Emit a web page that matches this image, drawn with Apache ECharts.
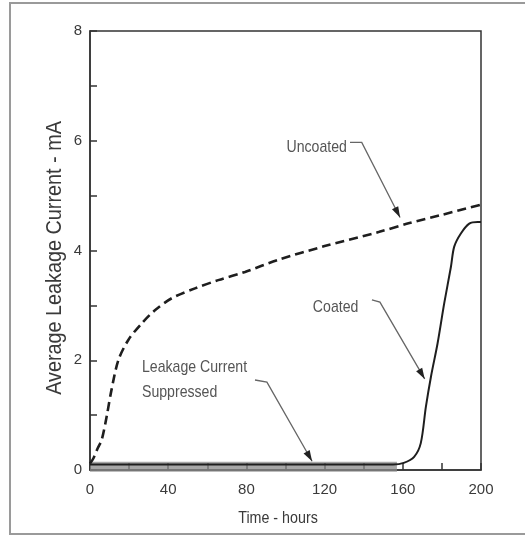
<!DOCTYPE html>
<html>
<head>
<meta charset="utf-8">
<title>Average Leakage Current</title>
<script src="https://cdn.jsdelivr.net/npm/echarts@6/dist/echarts.min.js"></script>
<style>
  html, body { margin: 0; padding: 0; background: #fff; }
  #chart { width: 525px; height: 536px; }
</style>
</head>
<body>
<div id="chart"></div>
<script>
// hours / mA
const uncoatedTime = [0, 1.7, 4, 6, 8.5, 11, 14.5, 19.6, 26.4, 33.2, 41.8, 53.7, 65.6, 79.3, 96.3, 120, 148, 163.4, 180, 199.5];
const uncoatedValue = [0.12, 0.21, 0.4, 0.55, 0.97, 1.46, 2.0, 2.37, 2.67, 2.91, 3.13, 3.31, 3.46, 3.61, 3.83, 4.08, 4.34, 4.5, 4.65, 4.83];

const coatedTime = [0, 40, 80, 120, 155, 160.5, 165.8, 169.2, 171.8, 174.4, 177.8, 181.2, 184.6, 186.3, 189.7, 194, 198.3, 200];
const coatedValue = [0.1, 0.1, 0.1, 0.1, 0.1, 0.13, 0.24, 0.49, 1.15, 1.7, 2.31, 3.04, 3.7, 4.07, 4.31, 4.49, 4.52, 4.52];

// grey band of suppressed leakage current along the bottom
const bandTime = [0, 157];
const bandValue = [0.06, 0.06];

const xTicks = [0, 40, 80, 120, 160, 200];
const yTicks = [0, 2, 4, 6, 8];

// annotations: label anchor and pointer path, in data units
const notes = [
  { text: 'Uncoated', at: [100.5, 5.88], path: [[133, 5.97], [139, 5.97], [158.6, 4.6]] },
  { text: 'Coated', at: [114, 2.97], path: [[144.2, 3.1], [148.3, 3.06], [171.2, 1.66]] },
  { text: 'Leakage Current\nSuppressed', at: [26.6, 1.64], path: [[84.4, 1.64], [90.5, 1.6], [113.6, 0.16]] }
];

const pairs = (xs, ys) => xs.map((x, i) => [x, ys[i]]);
const font = '"Liberation Sans", Arial, sans-serif';
const ink = '#3a3a3a';

const chart = echarts.init(document.getElementById('chart'));

const option = {
  animation: false,
  backgroundColor: '#fff',
  grid: {
    left: 90, top: 31, width: 391, height: 439,
    show: true, borderColor: '#333', borderWidth: 1.5, backgroundColor: 'transparent'
  },
  xAxis: {
    type: 'value', min: 0, max: 200, interval: 20,
    axisLine: { show: true, lineStyle: { color: '#333', width: 1.5 } },
    axisTick: { show: true, inside: true, length: 7, lineStyle: { color: '#333', width: 1.5 } },
    splitLine: { show: false },
    axisLabel: {
      margin: 12, color: ink, fontFamily: font, fontSize: 15,
      formatter: v => (xTicks.indexOf(v) >= 0 ? String(v) : '')
    }
  },
  yAxis: {
    type: 'value', min: 0, max: 8, interval: 1,
    axisLine: { show: true, lineStyle: { color: '#333', width: 1.5 } },
    axisTick: { show: true, inside: true, length: 7, lineStyle: { color: '#333', width: 1.5 } },
    splitLine: { show: false },
    axisLabel: {
      margin: 8, color: ink, fontFamily: font, fontSize: 15,
      formatter: v => (yTicks.indexOf(v) >= 0 ? String(v) : '')
    }
  },
  series: [
    {
      name: 'band', type: 'line', data: pairs(bandTime, bandValue),
      symbol: 'none', silent: true, z: 1,
      lineStyle: { color: '#8a8a8a', width: 10, opacity: 0.75 }
    },
    {
      name: 'Uncoated', type: 'line', data: pairs(uncoatedTime, uncoatedValue),
      symbol: 'none', smooth: 0.3, z: 3,
      lineStyle: { color: '#1e1e1e', width: 2.6, type: [9, 5] }
    },
    {
      name: 'Coated', type: 'line', data: pairs(coatedTime, coatedValue),
      symbol: 'none', smooth: 0.3, z: 4,
      lineStyle: { color: '#1e1e1e', width: 2 }
    }
  ]
};

chart.setOption(option);

// annotations are placed through the chart's own scales
const toPx = p => chart.convertToPixel({ gridIndex: 0 }, p);

const arrowHead = (from, to) => {
  const a = Math.atan2(to[1] - from[1], to[0] - from[0]);
  const len = 11, half = 3.5;
  const bx = to[0] - len * Math.cos(a), by = to[1] - len * Math.sin(a);
  return [
    to,
    [bx + half * Math.sin(a), by - half * Math.cos(a)],
    [bx - half * Math.sin(a), by + half * Math.cos(a)]
  ];
};

const graphics = [
  {
    type: 'rect', silent: true,
    shape: { x: 10, y: 3, width: 600, height: 531 },
    style: { fill: 'none', stroke: '#9a9a9a', lineWidth: 2 }
  },
  {
    type: 'text', x: 55, y: 258, rotation: Math.PI / 2, scaleX: 0.9,
    style: {
      text: 'Average Leakage Current - mA', fill: ink, font: '22px ' + font,
      align: 'center', verticalAlign: 'middle'
    }
  },
  {
    type: 'text', x: 278, y: 518, scaleX: 0.84,
    style: {
      text: 'Time - hours', fill: ink, font: '17px ' + font,
      align: 'center', verticalAlign: 'middle'
    }
  }
];

notes.forEach(n => {
  const at = toPx(n.at);
  const pts = n.path.map(toPx);
  graphics.push({
    type: 'text', x: at[0], y: at[1], scaleX: 0.83,
    style: {
      text: n.text, fill: '#555', font: '17px ' + font,
      align: 'left', verticalAlign: 'middle', lineHeight: 25
    }
  });
  graphics.push({
    type: 'polyline', silent: true, z: 10,
    shape: { points: pts },
    style: { stroke: '#666', lineWidth: 1.3, fill: 'none' }
  });
  graphics.push({
    type: 'polygon', silent: true, z: 10,
    shape: { points: arrowHead(pts[pts.length - 2], pts[pts.length - 1]) },
    style: { fill: '#222' }
  });
});

chart.setOption({ graphic: graphics });
</script>
</body>
</html>
